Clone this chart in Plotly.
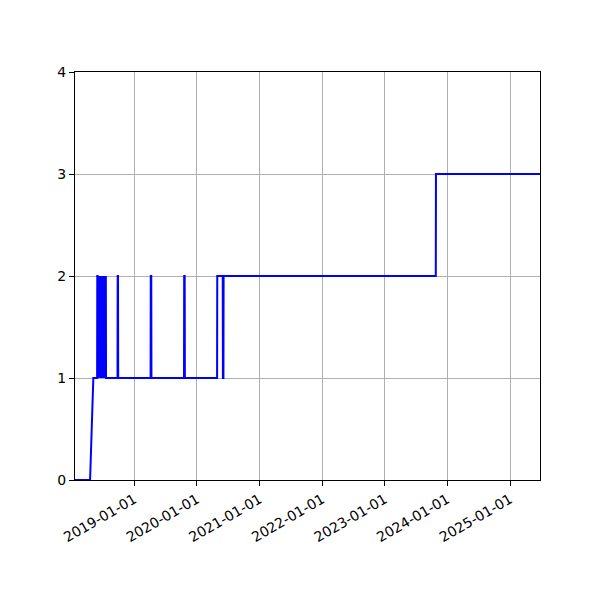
"""Step-like count over time, redrawn with Plotly."""

import plotly.graph_objects as go

# sample dates and the value at each of them
dates = [
    "2018-01-20", "2018-04-18", "2018-05-07", "2018-05-29",
    "2018-05-30", "2018-06-01", "2018-06-02", "2018-06-04",
    "2018-06-06", "2018-06-07", "2018-06-09", "2018-06-12",
    "2018-06-13", "2018-06-15", "2018-06-18", "2018-06-19",
    "2018-06-21", "2018-06-24", "2018-06-25", "2018-06-27",
    "2018-06-30", "2018-07-01", "2018-07-03", "2018-07-06",
    "2018-07-07", "2018-07-09", "2018-07-12", "2018-07-13",
    "2018-07-15", "2018-07-19", "2018-07-20",
    "2018-09-25", "2018-09-26", "2018-09-28", "2018-09-29",
    "2019-04-06", "2019-04-07", "2019-04-10", "2019-04-11",
    "2019-10-18", "2019-10-19", "2019-10-22", "2019-10-23",
    "2020-04-28", "2020-04-29", "2020-05-31", "2020-06-01",
    "2020-06-04", "2020-06-05",
    "2023-10-26", "2023-10-27", "2025-06-25",
]
values = [
    0, 0, 1, 1,
    2, 2, 1, 2,
    2, 1, 2, 2,
    1, 2, 2, 1,
    2, 2, 1, 2,
    2, 1, 2, 2,
    1, 2, 2, 1,
    2, 2, 1,
    1, 2, 2, 1,
    1, 2, 2, 1,
    1, 2, 2, 1,
    1, 2, 2, 1,
    1, 2,
    2, 3, 3,
]

year_ticks = [f"{y}-01-01" for y in range(2019, 2026)]
y_ticks = [0, 1, 2, 3, 4]

fig = go.Figure()
fig.add_trace(
    go.Scatter(
        x=dates,
        y=values,
        mode="lines",
        line=dict(color="#0000ff", width=2),
        showlegend=False,
    )
)

axis_style = dict(
    showline=True,
    linecolor="black",
    linewidth=1,
    mirror=True,
    ticks="outside",
    ticklen=5,
    tickwidth=1,
    tickcolor="black",
    showgrid=True,
    gridcolor="#b0b0b0",
    gridwidth=1,
    zeroline=False,
    automargin=False,
    tickfont=dict(family="DejaVu Sans", size=14, color="black"),
)

fig.update_xaxes(
    **axis_style,
    type="date",
    range=[dates[0], dates[-1]],
    tickvals=year_ticks,
    tickformat="%Y-%m-%d",
    tickangle=-30,
)
fig.update_yaxes(**axis_style, range=[y_ticks[0], y_ticks[-1]], tickvals=y_ticks)

# page body adds an 8px offset, so the figure is a bit smaller than 600
fig.update_layout(
    width=592,
    height=592,
    margin=dict(l=67, r=60, t=64, b=120),
    plot_bgcolor="white",
    paper_bgcolor="white",
)

fig.write_html("out.html")
